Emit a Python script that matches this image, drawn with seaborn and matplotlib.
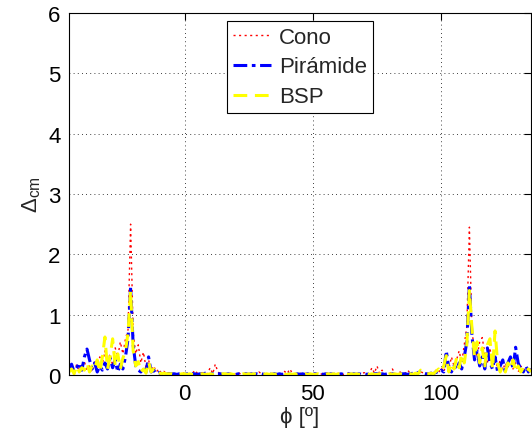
import numpy as np
import pandas as pd
import seaborn as sns
import matplotlib
matplotlib.use('Agg')
import matplotlib.pyplot as plt

# angle grid, one sample per degree
phi = np.arange(-45, 136)

# values: left side (-45..-5), middle (-4..94), right side (95..135)
cono_left = [0.05, 0.12, 0.04, 0.18, 0.06, 0.1, 0.22, 0.08, 0.15, 0.05, 0.25, 0.12, 0.3, 0.18,
             0.4, 0.22, 0.35, 0.15, 0.45, 0.3, 0.55, 0.35, 0.6, 0.75, 2.5, 0.7, 0.35, 0.5, 0.2,
             0.38, 0.12, 0.25, 0.08, 0.15, 0.05, 0.1, 0.03, 0.06, 0.02, 0.04, 0.02]
cono_mid = [0.02, 0.03, 0.01, 0.05, 0.02, 0.03, 0.01, 0.02, 0.08, 0.03,
            0.02, 0.04, 0.01, 0.03, 0.12, 0.02, 0.18, 0.05, 0.02, 0.03,
            0.01, 0.02, 0.03, 0.01, 0.02, 0.04, 0.01, 0.02, 0.03, 0.01,
            0.02, 0.03, 0.01, 0.05, 0.02, 0.01, 0.03, 0.02, 0.01, 0.02,
            0.03, 0.01, 0.02, 0.06, 0.02, 0.1, 0.03, 0.01, 0.02, 0.03,
            0.01, 0.02, 0.03, 0.01, 0.02, 0.01, 0.03, 0.02, 0.01, 0.02,
            0.03, 0.01, 0.02, 0.01, 0.03, 0.02, 0.01, 0.02, 0.03, 0.01,
            0.02, 0.03, 0.01, 0.02, 0.04, 0.01, 0.02, 0.12, 0.03, 0.15,
            0.02, 0.08, 0.01, 0.03, 0.02, 0.1, 0.02, 0.01, 0.05, 0.02,
            0.03, 0.08, 0.02, 0.01, 0.04, 0.02, 0.06, 0.03, 0.02]
cono_right = [0.03, 0.05, 0.02, 0.08, 0.04, 0.12, 0.05, 0.2, 0.1, 0.3, 0.15, 0.25, 0.4, 0.2,
              0.5, 0.8, 2.45, 0.7, 0.45, 0.3, 0.55, 0.62, 0.35, 0.2, 0.45, 0.15, 0.3, 0.1,
              0.25, 0.08, 0.2, 0.12, 0.3, 0.1, 0.2, 0.05, 0.15, 0.08, 0.12, 0.05, 0.1]

pir_left = [0.1, 0.18, 0.05, 0.12, 0.2, 0.08, 0.3, 0.43, 0.25, 0.1, 0.2, 0.05, 0.15, 0.08,
            0.2, 0.1, 0.28, 0.12, 0.25, 0.05, 0.18, 0.1, 0.3, 0.6, 1.45, 0.5, 0.15, 0.08,
            0.05, 0.12, 0.05, 0.3, 0.05, 0.08, 0.02, 0.04, 0.02, 0.03, 0.02, 0.02, 0.02]
pir_mid = [0.02, 0.01, 0.02, 0.03, 0.01, 0.02, 0.01, 0.02, 0.02, 0.01,
           0.02, 0.01, 0.03, 0.02, 0.01, 0.02, 0.01, 0.02, 0.02, 0.01,
           0.01, 0.02, 0.01, 0.02, 0.01, 0.02, 0.02, 0.01, 0.02, 0.01,
           0.02, 0.01, 0.02, 0.01, 0.02, 0.01, 0.02, 0.02, 0.01, 0.02,
           0.01, 0.02, 0.01, 0.02, 0.03, 0.01, 0.02, 0.01, 0.02, 0.01,
           0.02, 0.01, 0.02, 0.01, 0.02, 0.02, 0.01, 0.02, 0.01, 0.02,
           0.01, 0.02, 0.01, 0.02, 0.01, 0.02, 0.01, 0.02, 0.02, 0.01,
           0.02, 0.01, 0.02, 0.01, 0.02, 0.01, 0.02, 0.01, 0.02, 0.02,
           0.01, 0.02, 0.01, 0.02, 0.01, 0.02, 0.01, 0.02, 0.01, 0.02,
           0.02, 0.01, 0.02, 0.03, 0.02, 0.04, 0.05, 0.03, 0.02]
pir_right = [0.02, 0.03, 0.02, 0.05, 0.03, 0.08, 0.05, 0.4, 0.1, 0.05, 0.15, 0.08, 0.2, 0.1,
             0.3, 0.55, 1.5, 0.65, 0.25, 0.4, 0.15, 0.3, 0.1, 0.45, 0.2, 0.1, 0.3, 0.05,
             0.15, 0.25, 0.05, 0.2, 0.3, 0.1, 0.46, 0.2, 0.1, 0.05, 0.15, 0.05, 0.1]

bsp_left = [0.05, 0.1, 0.02, 0.15, 0.05, 0.12, 0.08, 0.2, 0.05, 0.15, 0.1, 0.25, 0.05, 0.3,
            0.63, 0.1, 0.3, 0.6, 0.15, 0.35, 0.1, 0.28, 0.4, 0.7, 1.4, 0.4, 0.15, 0.22,
            0.05, 0.1, 0.03, 0.22, 0.05, 0.1, 0.02, 0.04, 0.02, 0.03, 0.02, 0.02, 0.02]
bsp_mid = [0.01, 0.02, 0.01, 0.02, 0.02, 0.01, 0.02, 0.01, 0.01, 0.02,
           0.01, 0.02, 0.01, 0.01, 0.02, 0.01, 0.02, 0.01, 0.01, 0.02,
           0.02, 0.01, 0.02, 0.01, 0.01, 0.02, 0.01, 0.02, 0.01, 0.02,
           0.01, 0.02, 0.01, 0.02, 0.01, 0.01, 0.02, 0.01, 0.02, 0.01,
           0.02, 0.01, 0.02, 0.01, 0.01, 0.02, 0.01, 0.02, 0.01, 0.02,
           0.01, 0.02, 0.01, 0.02, 0.01, 0.01, 0.02, 0.01, 0.02, 0.01,
           0.02, 0.01, 0.02, 0.01, 0.02, 0.01, 0.01, 0.02, 0.01, 0.02,
           0.01, 0.02, 0.01, 0.02, 0.01, 0.02, 0.01, 0.02, 0.01, 0.01,
           0.02, 0.01, 0.02, 0.01, 0.02, 0.01, 0.02, 0.01, 0.02, 0.01,
           0.02, 0.03, 0.02, 0.01, 0.03, 0.02, 0.08, 0.04, 0.02]
bsp_right = [0.02, 0.03, 0.02, 0.06, 0.1, 0.05, 0.15, 0.32, 0.05, 0.2, 0.1, 0.28, 0.12, 0.35,
             0.2, 0.5, 1.4, 0.77, 0.3, 0.55, 0.2, 0.45, 0.15, 0.5, 0.6, 0.1, 0.73, 0.2,
             0.05, 0.15, 0.05, 0.2, 0.1, 0.25, 0.05, 0.15, 0.05, 0.12, 0.05, 0.1, 0.05]

labels = ['Cono', 'Pirámide', 'BSP']

df = pd.DataFrame({
    'phi': phi,
    'Cono': cono_left + cono_mid + cono_right,
    'Pirámide': pir_left + pir_mid + pir_right,
    'BSP': bsp_left + bsp_mid + bsp_right,
})

sns.set_style('white')
plt.rcParams['font.family'] = ['Liberation Sans', 'DejaVu Sans']
plt.rcParams['mathtext.fontset'] = 'custom'
plt.rcParams['mathtext.rm'] = 'Liberation Sans'

fig = plt.figure(figsize=(5.32, 4.35), dpi=100)
ax = fig.add_axes([69/532, 1 - 376/435, 462/532, 362/435])

styles = {
    'Cono': dict(color='red', lw=1.0, dashes=(1.5, 2.5)),
    'Pirámide': dict(color='blue', lw=2.2, dashes=(4.5, 1.5, 1.2, 1.5)),
    'BSP': dict(color='yellow', lw=2.2, dashes=(4.5, 2.5)),
}
for name in labels:
    st = styles[name]
    sns.lineplot(data=df, x='phi', y=name, ax=ax, color=st['color'], lw=st['lw'],
                 dashes=False, label=name).lines[-1].set_dashes(st['dashes'])

ax.set_xlim(-45, 135)
ax.set_ylim(0, 6)
ax.set_xticks([0, 50, 100])
ax.set_yticks([0, 1, 2, 3, 4, 5, 6])
ax.grid(True, color='black', linestyle=(0, (1, 4)), lw=0.6)
ax.tick_params(direction='in', length=5, width=0.8, top=True, right=True,
               labelsize=16, colors='black', pad=6)
for s in ax.spines.values():
    s.set_visible(True)
    s.set_color('black')
    s.set_linewidth(0.8)

ax.set_xlabel('ϕ [º]', fontsize=16, labelpad=1)
ax.set_ylabel(r'$\mathregular{\Delta_{cm}}$', fontsize=16, labelpad=4)

leg = ax.legend(loc='upper left', bbox_to_anchor=(158/462, 354/362), fontsize=16,
                frameon=True, fancybox=False, framealpha=1, edgecolor='black',
                handlelength=1.75, labelspacing=0.4, borderpad=0.25, handletextpad=0.35,
                borderaxespad=0)
leg.get_frame().set_linewidth(0.8)

fig.savefig('out.png', dpi=100)
